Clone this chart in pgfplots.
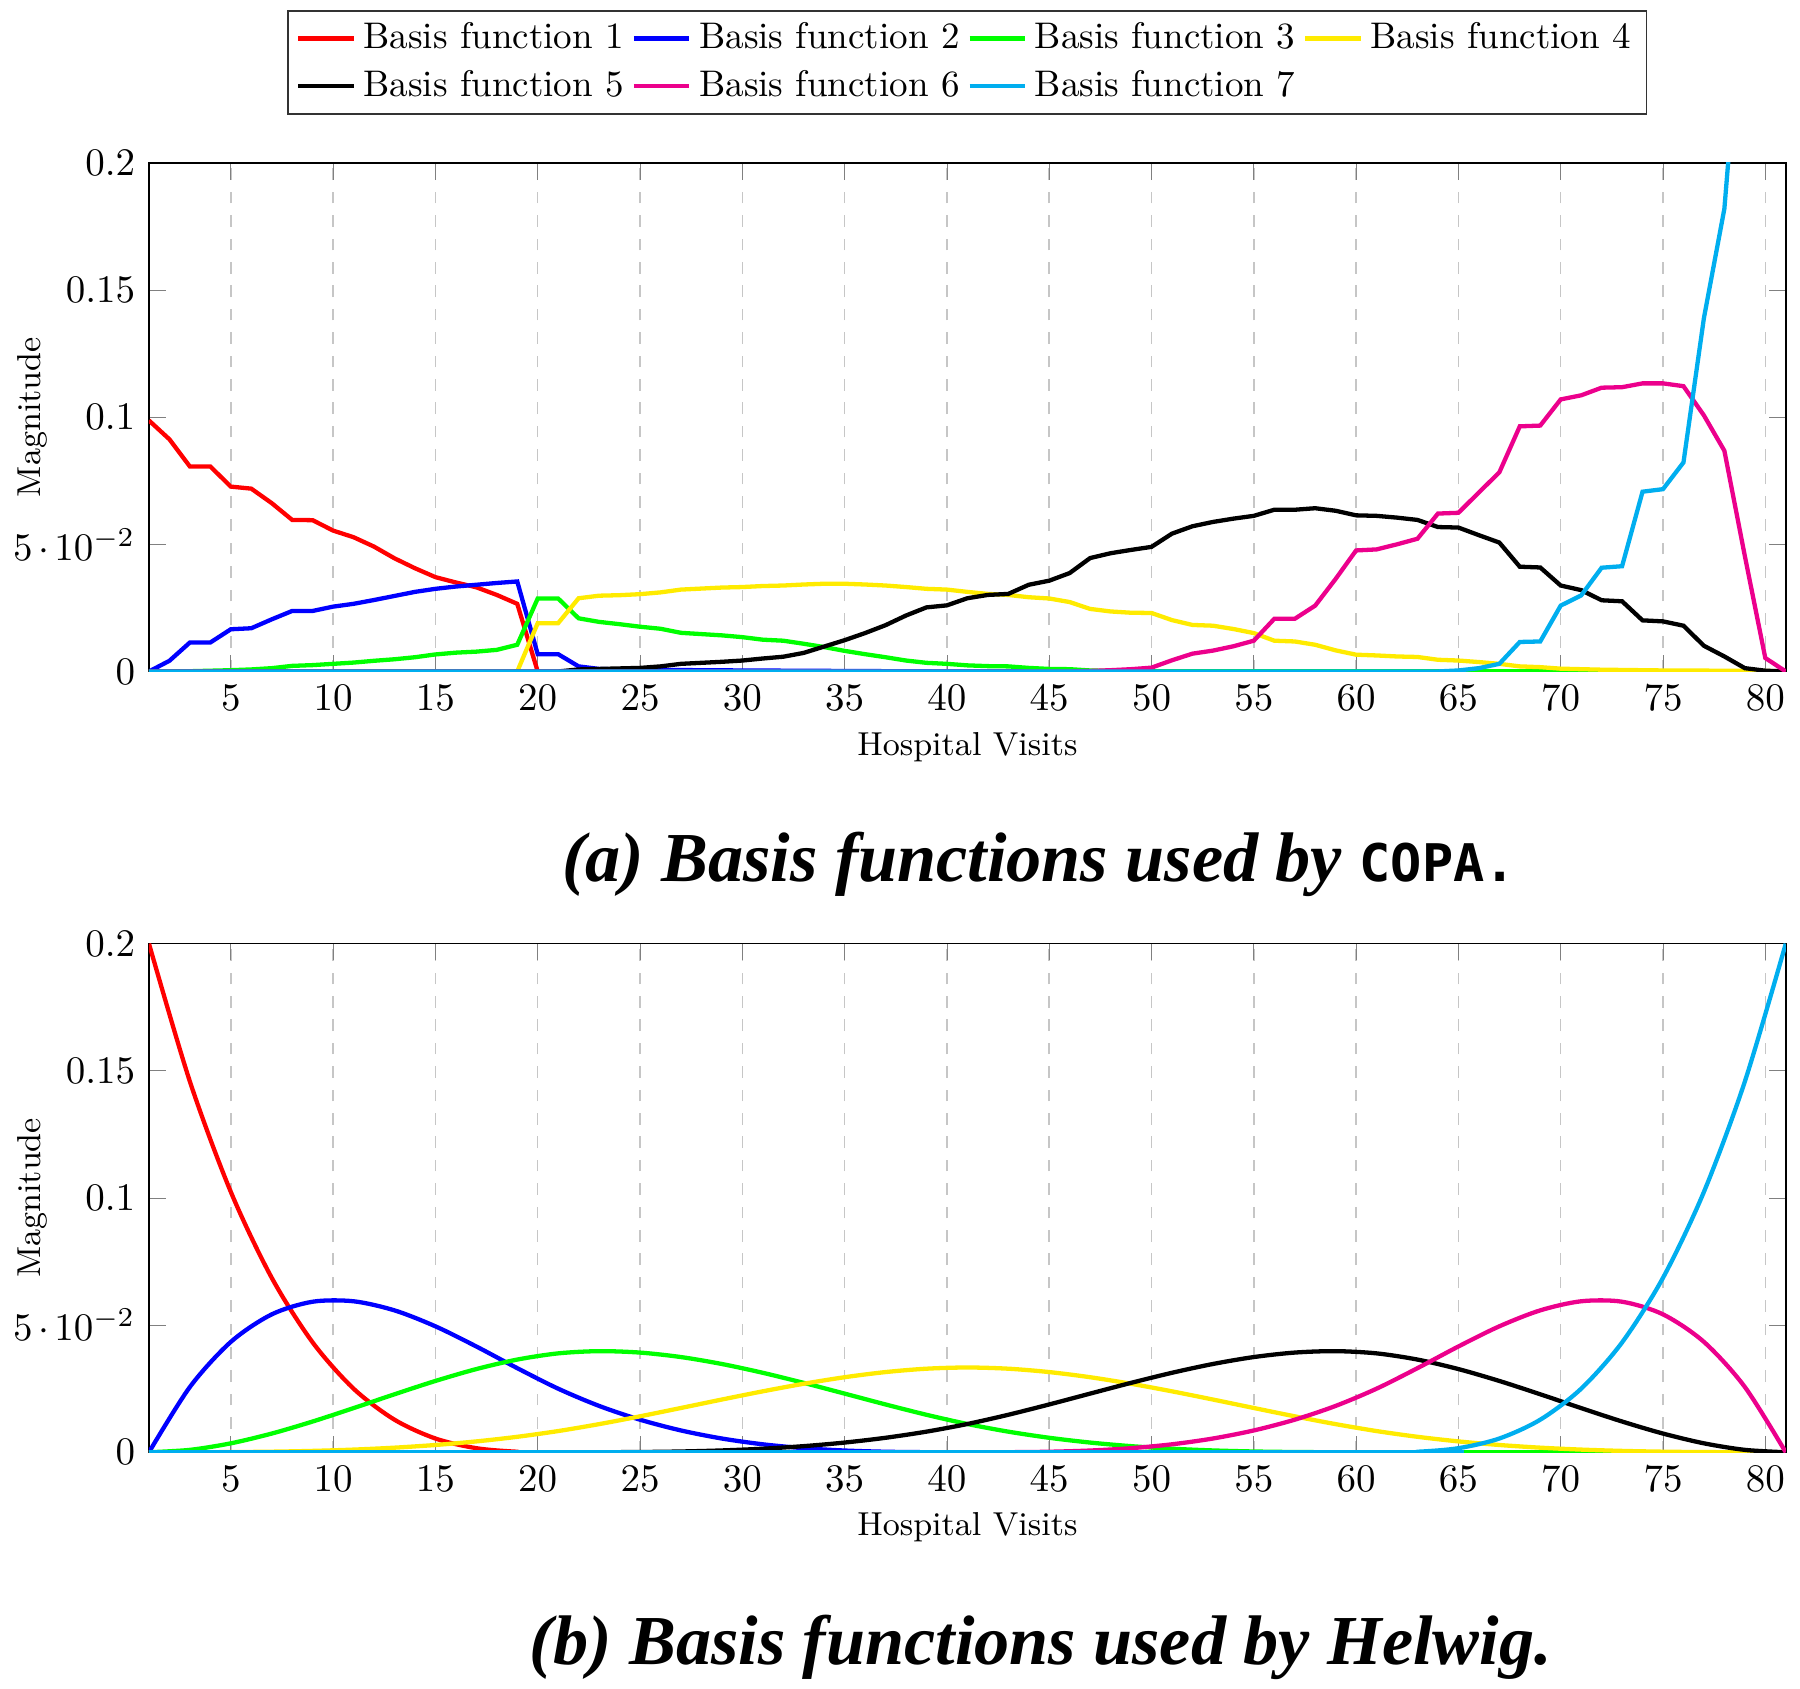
\documentclass[border=0pt]{standalone}
\usepackage{fontspec}
\usepackage{pgfplots}
\pgfplotsset{compat=1.18}
\newfontfamily\capfont{Liberation Serif}
\newfontfamily\capmono{DejaVu Sans Mono}
\definecolor{cred}{RGB}{255,0,0}
\definecolor{cblue}{RGB}{0,0,255}
\definecolor{cgreen}{RGB}{0,255,0}
\definecolor{cyellow}{RGB}{255,235,0}
\definecolor{cmagenta}{RGB}{236,0,140}
\definecolor{ccyan}{RGB}{0,174,239}
\pgfplotsset{basisaxis/.style={
  scale only axis, width=419.7pt, height=130.4pt,
  xmin=1, xmax=81, ymin=0, ymax=0.2,
  xtick={5,10,...,80}, ytick={0,0.05,0.1,0.15,0.2},
  yticklabels={$0$,$5\mskip2.5mu{\cdot}\mskip2.5mu10^{-2}$,$0.1$,$0.15$,$0.2$},
  xmajorgrids, grid style={dashed, gray!45},
  ylabel={Magnitude},
  xlabel style={at={(axis description cs:0.5,-0.148)}, anchor=center, font=\fontsize{8.5}{10}\selectfont},
  ylabel style={at={(axis description cs:-0.0710,0.5)}, anchor=center, font=\fontsize{8.5}{10}\selectfont},
  every axis plot/.append style={line width=1.1pt},
  no markers,
}}
\begin{document}
\begin{tikzpicture}
\path[use as bounding box] (0,0) rectangle (461.54pt,433.08pt);
\begin{axis}[basisaxis, at={(38.2pt,260.9pt)}, anchor=south west,
  legend columns=4,
  legend image code/.code={\draw[#1] (0cm,0cm) -- (0.5cm,0cm);},
  legend style={at={(0.5,1.095)}, anchor=south, inner xsep=2pt, inner ysep=1pt,
    font=\fontsize{9.5}{11.5}\selectfont, draw=black!80},
]
\addplot[cred] coordinates {(1,0.0987)(2,0.0913)(3,0.0806)(4,0.0806)(5,0.0727)(6,0.0719)(7,0.0662)(8,0.0596)(9,0.0595)(10,0.0554)(11,0.0528)(12,0.0491)(13,0.0445)(14,0.0406)(15,0.0371)(16,0.0350)(17,0.0331)(18,0.0301)(19,0.0266)(20,0)(81,0)};
\addlegendentry{Basis function 1}
\addplot[cblue] coordinates {(1,0)(2,0.0042)(3,0.0114)(4,0.0114)(5,0.0166)(6,0.0170)(7,0.0205)(8,0.0238)(9,0.0238)(10,0.0255)(11,0.0266)(12,0.0281)(13,0.0297)(14,0.0313)(15,0.0325)(16,0.0334)(17,0.0341)(18,0.0348)(19,0.0354)(20,0.0068)(21,0.0068)(22,0.0020)(23,0.0010)(24,0.0008)(26,0.0006)(30,0.0004)(35,0.0002)(40,0)(81,0)};
\addlegendentry{Basis function 2}
\addplot[cgreen] coordinates {(1,0)(2,0)(3,0.0001)(4,0.0003)(5,0.0005)(6,0.0008)(7,0.0013)(8,0.0022)(9,0.0025)(10,0.0030)(11,0.0035)(12,0.0042)(13,0.0048)(14,0.0056)(15,0.0067)(16,0.0074)(17,0.0078)(18,0.0085)(19,0.0105)(20,0.0287)(21,0.0287)(22,0.0209)(23,0.0195)(24,0.0186)(25,0.0176)(26,0.0168)(27,0.0152)(28,0.0147)(29,0.0142)(30,0.0135)(31,0.0125)(32,0.0121)(33,0.0109)(34,0.0096)(35,0.0081)(36,0.0068)(37,0.0056)(38,0.0043)(39,0.0034)(40,0.0030)(41,0.0024)(42,0.0021)(43,0.0020)(44,0.0014)(45,0.0010)(46,0.0009)(47,0.0004)(48,0.0002)(50,0.0001)(81,0)};
\addlegendentry{Basis function 3}
\addplot[cyellow] coordinates {(1,0)(19,0)(20,0.0190)(21,0.0190)(22,0.0288)(23,0.0298)(24,0.0300)(25,0.0304)(26,0.0311)(27,0.0322)(28,0.0326)(29,0.0330)(30,0.0332)(31,0.0336)(32,0.0338)(33,0.0342)(34,0.0345)(35,0.0345)(36,0.0342)(37,0.0338)(38,0.0332)(39,0.0325)(40,0.0322)(41,0.0313)(42,0.0305)(43,0.0301)(44,0.0292)(45,0.0287)(46,0.0273)(47,0.0246)(48,0.0236)(49,0.0231)(50,0.0230)(51,0.0202)(52,0.0183)(53,0.0180)(54,0.0167)(55,0.0151)(56,0.0121)(57,0.0118)(58,0.0105)(59,0.0083)(60,0.0066)(61,0.0063)(62,0.0059)(63,0.0057)(64,0.0046)(65,0.0043)(66,0.0037)(67,0.0030)(68,0.0020)(69,0.0017)(70,0.0011)(71,0.0009)(72,0.0007)(73,0.0006)(74,0.0005)(75,0.0004)(78,0.0003)(80,0.0002)(81,0)};
\addlegendentry{Basis function 4}
\addplot[black] coordinates {(1,0)(21,0)(22,0.0008)(23,0.0010)(24,0.0012)(25,0.0014)(26,0.0020)(27,0.0030)(28,0.0034)(29,0.0038)(30,0.0043)(31,0.0051)(32,0.0058)(33,0.0073)(34,0.0098)(35,0.0123)(36,0.0151)(37,0.0182)(38,0.0220)(39,0.0252)(40,0.0260)(41,0.0288)(42,0.0301)(43,0.0305)(44,0.0341)(45,0.0357)(46,0.0387)(47,0.0446)(48,0.0465)(49,0.0478)(50,0.0490)(51,0.0542)(52,0.0571)(53,0.0588)(54,0.0601)(55,0.0612)(56,0.0636)(57,0.0636)(58,0.0642)(59,0.0632)(60,0.0614)(61,0.0612)(62,0.0605)(63,0.0596)(64,0.0568)(65,0.0566)(66,0.0536)(67,0.0507)(68,0.0412)(69,0.0409)(70,0.0338)(71,0.0320)(72,0.0280)(73,0.0276)(74,0.0201)(75,0.0197)(76,0.0180)(77,0.0101)(78,0.0059)(79,0.0013)(80,0.0003)(81,0)};
\addlegendentry{Basis function 5}
\addplot[cmagenta] coordinates {(1,0)(46,0)(47,0.0002)(48,0.0005)(49,0.0009)(50,0.0015)(51,0.0044)(52,0.0070)(53,0.0082)(54,0.0099)(55,0.0121)(56,0.0207)(57,0.0207)(58,0.0259)(59,0.0364)(60,0.0476)(61,0.0480)(62,0.0500)(63,0.0522)(64,0.0621)(65,0.0624)(66,0.0704)(67,0.0783)(68,0.0964)(69,0.0967)(70,0.1070)(71,0.1086)(72,0.1116)(73,0.1118)(74,0.1133)(75,0.1133)(76,0.1122)(77,0.1007)(78,0.0868)(79,0.0454)(80,0.0053)(81,0)};
\addlegendentry{Basis function 6}
\addplot[ccyan] coordinates {(1,0)(64,0)(65,0.0004)(66,0.0013)(67,0.0030)(68,0.0116)(69,0.0118)(70,0.0259)(71,0.0299)(72,0.0408)(73,0.0414)(74,0.0707)(75,0.0717)(76,0.0822)(77,0.139)(78,0.182)(79,0.28)(80,0.35)(81,0.4)};
\addlegendentry{Basis function 7}
\end{axis}
\node[font=\fontsize{8.5}{10}\selectfont] at (248.05pt,241.5pt) {Hospital Visits};
\begin{axis}[basisaxis, at={(38.2pt,60.7pt)}, anchor=south west, xlabel={Hospital Visits}, every axis plot/.append style={smooth}]
\addplot[cred] coordinates {(1,0.2)(3,0.1458)(5,0.1024)(7,0.0686)(9,0.0432)(11,0.025)(13,0.0128)(15,0.0054)(17,0.0016)(19,0.0002)(21,0)(81,0)};
\addplot[cblue] coordinates {(1,0)(3,0.025675)(5,0.0434)(7,0.054225)(9,0.0592)(11,0.059375)(13,0.0558)(15,0.049525)(17,0.0416)(19,0.033075)(21,0.025)(23,0.018225)(25,0.0128)(27,0.008575)(29,0.0054)(31,0.003125)(33,0.0016)(35,0.000675)(37,0.0002)(39,0.000025)(41,0)(81,0)};
\addplot[cgreen] coordinates {(1,0)(3,0.000939)(5,0.003511)(7,0.00735)(9,0.012089)(11,0.017361)(13,0.0228)(15,0.028039)(17,0.032711)(19,0.03645)(21,0.038889)(23,0.039761)(25,0.0392)(27,0.037439)(29,0.034711)(31,0.03125)(33,0.027289)(35,0.023061)(37,0.0188)(39,0.014739)(41,0.011111)(43,0.0081)(45,0.005689)(47,0.003811)(49,0.0024)(51,0.001389)(53,0.000711)(55,0.0003)(57,0.000089)(59,0.000011)(61,0)(81,0)};
\addplot[cyellow] coordinates {(1,0)(3,0.0000083)(5,0.0000667)(7,0.000225)(9,0.000533)(11,0.001042)(13,0.0018)(15,0.002858)(17,0.004267)(19,0.006075)(21,0.008333)(23,0.011058)(25,0.014133)(27,0.017408)(29,0.020733)(31,0.023958)(33,0.026933)(35,0.029508)(37,0.031533)(39,0.032858)(41,0.033333)(43,0.032858)(45,0.031533)(47,0.029508)(49,0.026933)(51,0.023958)(53,0.020733)(55,0.017408)(57,0.014133)(59,0.011058)(61,0.008333)(63,0.006075)(65,0.004267)(67,0.002858)(69,0.0018)(71,0.001042)(73,0.000533)(75,0.000225)(77,0.0000667)(79,0.0000083)(81,0)};
\addplot[black] coordinates {(1,0)(21,0)(23,0.000011)(25,0.000089)(27,0.0003)(29,0.000711)(31,0.001389)(33,0.0024)(35,0.003811)(37,0.005689)(39,0.0081)(41,0.011111)(43,0.014739)(45,0.0188)(47,0.023061)(49,0.027289)(51,0.03125)(53,0.034711)(55,0.037439)(57,0.0392)(59,0.039761)(61,0.038889)(63,0.03645)(65,0.032711)(67,0.028039)(69,0.0228)(71,0.017361)(73,0.012089)(75,0.00735)(77,0.003511)(79,0.000939)(81,0)};
\addplot[cmagenta] coordinates {(1,0)(41,0)(43,0.000025)(45,0.0002)(47,0.000675)(49,0.0016)(51,0.003125)(53,0.0054)(55,0.008575)(57,0.0128)(59,0.018225)(61,0.025)(63,0.033075)(65,0.0416)(67,0.049525)(69,0.0558)(71,0.059375)(73,0.0592)(75,0.054225)(77,0.0434)(79,0.025675)(81,0)};
\addplot[ccyan] coordinates {(1,0)(61,0)(63,0.0002)(65,0.0016)(67,0.0054)(69,0.0128)(71,0.025)(73,0.0432)(75,0.0686)(77,0.1024)(79,0.1458)(81,0.2)};
\end{axis}
\node at (266.4pt,211.5pt) {\fontsize{18}{20}\selectfont\capfont\bfseries\itshape (a) Basis functions used by {\capmono\bfseries\upshape\fontsize{13.3}{15}\selectfont COPA.}};
\node at (266.9pt,10.6pt) {\fontsize{18}{20}\selectfont\capfont\bfseries\itshape (b) Basis functions used by Helwig.};
\end{tikzpicture}
\end{document}
